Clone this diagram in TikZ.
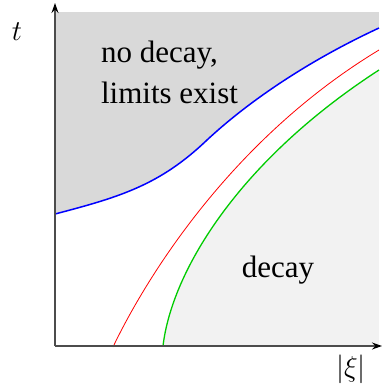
\documentclass[tikz,border=0pt]{standalone}
\usepackage{fontspec}
\setmainfont{Liberation Serif}
\usetikzlibrary{arrows.meta}

\begin{document}
\begin{tikzpicture}[x=0.5pt, y=-0.5pt,
        axisline/.style={line width=0.7pt, black!70, -{Stealth[length=5pt, width=3.5pt, black]}},
        region/.style={font=\fontsize{15.5}{20.5}\selectfont}]
            \useasboundingbox (0,0) rectangle (382,387);
            \coordinate (O) at (55,346);
            %
            \fill[black!15] (55,12) -- (55,214) .. controls (120,197) and (160,185) .. (207,140) .. controls (250,100) and (310,60) .. (379,28) -- (379,12) -- cycle;
            \fill[black!5] (163,346) .. controls (172,270) and (240,160) .. (379,70) -- (379,346) -- cycle;
            %
            \draw[blue, line width=0.75pt] (55,214) .. controls (120,197) and (160,185) .. (207,140) .. controls (250,100) and (310,60) .. (379,28);
            \draw[red, line width=0.4pt] (113,347) .. controls (145,280) and (230,140) .. (379,50);
            \draw[green!80!black, line width=0.65pt] (163,346) .. controls (172,270) and (240,160) .. (379,70);
            %
            \draw[axisline] (O) -- (55,3);
            \draw[axisline] (O) -- (382,346);
            %
            \node[region, anchor=base west, align=left] (nodecay) at (94,103) {no decay,\\limits exist};
            \node[region, anchor=base] (decay) at (278,277) {decay};
            \node[region] (tlabel) at (17,32) {$t$};
            \node[region] (xilabel) at (351,369) {$|\xi|$};
        \end{tikzpicture}
\end{document}
